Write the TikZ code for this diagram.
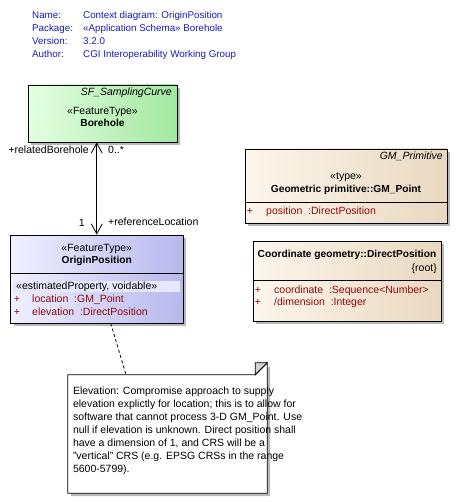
\documentclass[tikz,border=0pt]{standalone}
\usepackage{fontspec}
\setmainfont{Liberation Sans}
\usetikzlibrary{arrows.meta,shadows}
\definecolor{hdrblue}{RGB}{25,25,185}
\definecolor{attrred}{RGB}{140,10,10}
\definecolor{greenL}{RGB}{228,255,226}
\definecolor{greenR}{RGB}{162,232,160}
\definecolor{lilacL}{RGB}{240,240,255}
\definecolor{lilacR}{RGB}{184,184,238}
\definecolor{lilacband}{RGB}{232,232,252}
\definecolor{beigeL}{RGB}{253,246,236}
\definecolor{beigeR}{RGB}{233,216,192}
\tikzset{
  txt/.style={font=\fontsize{10.5}{13}\selectfont, inner sep=0pt, text height=7.5pt, text depth=2pt},
  hdr/.style={txt, font=\fontsize{9.8}{12}\selectfont, text=hdrblue, anchor=west},
  attr/.style={txt, text=attrred, anchor=west},
  plus/.style={txt, text=attrred},
  bold/.style={txt, font=\fontsize{10.2}{13}\selectfont\bfseries},
  ital/.style={txt, font=\fontsize{10.5}{13}\selectfont\itshape, anchor=east},
  classbox/.style={draw, line width=0.8pt, inner sep=0pt,
    drop shadow={shadow xshift=3pt, shadow yshift=-3pt, fill=black!28, opacity=1}},
  assoc/.style={line width=0.8pt, >={Straight Barb[length=10pt,width=11pt,line width=0.8pt]}, <->},
  notelink/.style={line width=0.8pt, dash pattern=on 3pt off 2.5pt}
}
\begin{document}
\begin{tikzpicture}[x=1pt,y=-1pt]
\useasboundingbox (0,0) rectangle (458,502);

% header
\node[hdr] (h-name) at (32,16) {Name:};
\node[hdr] (h-pkg) at (32,29) {Package:};
\node[hdr] (h-ver) at (32,42) {Version:};
\node[hdr] (h-auth) at (32,55) {Author:};
\node[hdr] (v-name) at (83,16) {Context diagram: OriginPosition};
\node[hdr] (v-pkg) at (83,29) {«Application Schema» Borehole};
\node[hdr] (v-ver) at (83,42) {3.2.0};
\node[hdr] (v-auth) at (83,55) {CGI Interoperability Working Group};

% Borehole
\node[classbox, left color=greenL, right color=greenR,
  minimum width=149, minimum height=57] (borehole) at (102.5,113.5) {};
\node[ital] (bh-parent) at (172,93) {SF\_SamplingCurve};
\node[txt] (bh-stereo) at (102.5,112) {«FeatureType»};
\node[bold] (bh-name) at (102.5,124) {Borehole};

% OriginPosition
\node[classbox, left color=lilacL, right color=lilacR,
  minimum width=172.5, minimum height=88] (origin) at (96.75,279) {};
\draw[line width=0.8pt] (10.5,273) -- (183,273);
\fill[lilacband] (13,281) rectangle (180,292);
\node[txt] (op-stereo) at (96.75,249) {«FeatureType»};
\node[bold] (op-name) at (96.75,261) {OriginPosition};
\node[txt, anchor=west] (op-attstereo) at (16,287) {«estimatedProperty, voidable»};
\node[plus] (op-p1) at (17,300) {+};
\node[attr] (op-a1) at (32,300) {location\ \ :GM\_Point};
\node[plus] (op-p2) at (17,313) {+};
\node[attr] (op-a2) at (32,313) {elevation\ \ :DirectPosition};

% GM_Point
\node[classbox, left color=beigeL, right color=beigeR,
  minimum width=202, minimum height=74] (gmpoint) at (346,186) {};
\draw[line width=0.8pt] (245,202) -- (447,202);
\node[ital] (gm-parent) at (443,157) {GM\_Primitive};
\node[txt] (gm-stereo) at (346,177) {«type»};
\node[bold] (gm-name) at (346,190) {Geometric primitive::GM\_Point};
\node[plus] (gm-p1) at (250,212) {+};
\node[attr] (gm-a1) at (266,212) {position\ \ :DirectPosition};

% DirectPosition
\node[classbox, left color=beigeL, right color=beigeR,
  minimum width=188, minimum height=80] (dirpos) at (347,281) {};
\draw[line width=0.8pt] (253,280) -- (441,280);
\node[bold] (dp-name) at (347,255) {Coordinate geometry::DirectPosition};
\node[txt, anchor=east] (dp-tag) at (437,269) {\{root\}};
\node[plus] (dp-p1) at (258,291) {+};
\node[attr] (dp-a1) at (274,291) {coordinate\ \ :Sequence<Number>};
\node[plus] (dp-p2) at (258,303) {+};
\node[attr] (dp-a2) at (274,303) {/dimension\ \ :Integer};

% association
\draw[assoc] (borehole.south -| origin.north) -- (origin.north);
\node[txt, anchor=east] (r-bh) at (89,151) {+relatedBorehole};
\node[txt, anchor=west] (m-bh) at (108,151) {0..*};
\node[txt, anchor=east] (m-op) at (85,224) {1};
\node[txt, anchor=west] (r-op) at (108,223) {+referenceLocation};

% note
\node[minimum width=199, minimum height=118, inner sep=0pt] (note) at (167.5,434) {};
\fill[black!28] ([shift={(3,3)}]note.north west) -- ([shift={(-9,3)}]note.north east)
  -- ([shift={(3,-9)}]note.north east) -- ([shift={(3,3)}]note.south east)
  -- ([shift={(3,3)}]note.south west) -- cycle;
\draw[line width=0.8pt, fill=white] (note.north west) -- ([xshift=-12pt]note.north east)
  -- ([yshift=12pt]note.north east) -- (note.south east) -- (note.south west) -- cycle;
\draw[line width=0.8pt, fill=black!18] ([xshift=-12pt]note.north east)
  -- ([xshift=-12pt,yshift=12pt]note.north east) -- ([yshift=12pt]note.north east) -- cycle;
\node[anchor=west, align=left, inner sep=0pt, font=\fontsize{10.5}{13}\selectfont] (notetxt)
  at ([xshift=5pt,yshift=3pt]note.west) {Elevation: Compromise approach to supply\\
  elevation explictly for location; this is to allow for\\
  software that cannot process 3-D GM\_Point. Use\\
  null if elevation is unknown. Direct position shall\\
  have a dimension of 1, and CRS will be a\\
  "vertical" CRS (e.g. EPSG CRSs in the range\\
  5600-5799).};
\draw[notelink] ([xshift=14pt]origin.south) -- ([xshift=-41.5pt]note.north);
\end{tikzpicture}
\end{document}
